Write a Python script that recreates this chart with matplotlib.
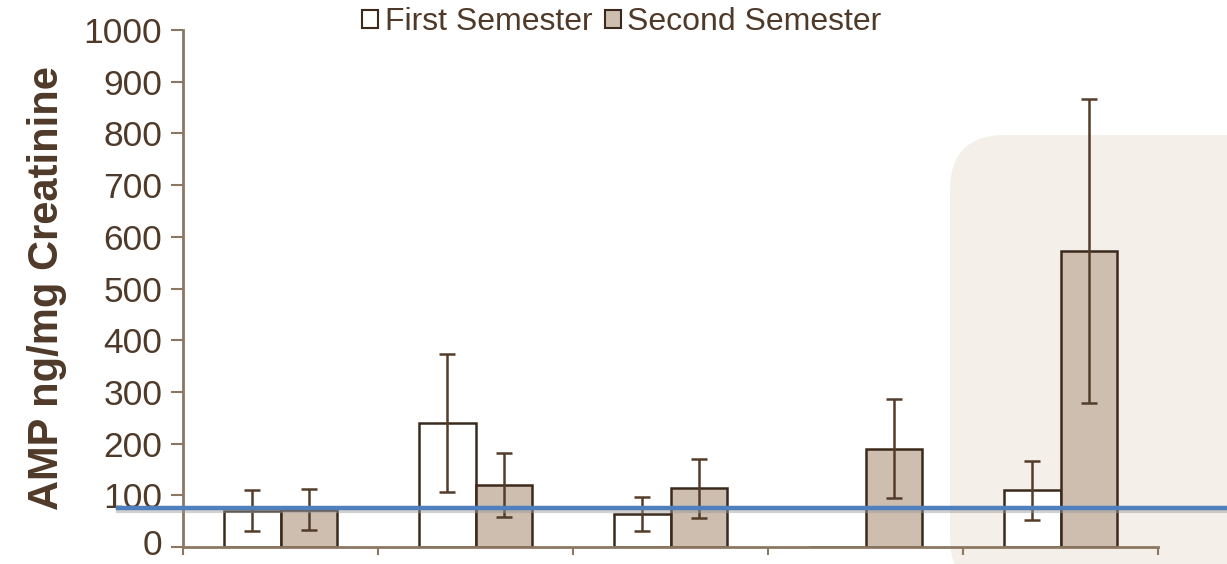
import matplotlib
matplotlib.use("Agg")
import matplotlib.pyplot as plt
import matplotlib.transforms as mtransforms
from matplotlib.patches import FancyBboxPatch
from matplotlib.lines import Line2D
import numpy as np

plt.rcParams['font.family'] = ['Liberation Sans', 'DejaVu Sans']

# Data
groups = ["G1", "G2", "G3", "G4", "G5"]
first_mean = [70, 240, 64, 0, 110]
first_err = [40, 133, 33, 0, 57]
second_mean = [72, 120, 114, 190, 572]
second_err = [40, 62, 57, 96, 294]
series_labels = ["First Semester", "Second Semester"]
reference_level = 75
y_ticks = [0, 100, 200, 300, 400, 500, 600, 700, 800, 900, 1000]

W, H = 1227, 564
fig = plt.figure(figsize=(W / 100, H / 100), dpi=100)

brown_txt = "#4f3a2a"
axis_col = "#8c7762"
edge_col = "#3b2a1c"
err_col = "#543c2b"
fill2 = "#cdbeb0"

# Highlight panel behind the last group
panel = FancyBboxPatch((950 / W, -0.05), 0.3, (H - 135) / H + 0.05,
                       boxstyle="round,pad=0,rounding_size=0.045",
                       transform=fig.transFigure, facecolor="#f4efe8",
                       edgecolor="none", zorder=-5, mutation_aspect=W / H)
fig.patches.append(panel)

ax = fig.add_axes([183 / W, 1 - 547 / H, (1158 - 183) / W, (547 - 30) / H])
ax.patch.set_alpha(0)
ax.set_zorder(2)

x = np.arange(len(groups)) + 0.5
w = 0.29
ax.bar(x - w / 2, first_mean, w, color="white", edgecolor=edge_col, linewidth=1.8, zorder=2)
ax.bar(x + w / 2, second_mean, w, color=fill2, edgecolor=edge_col, linewidth=1.8, zorder=2)

for xi, m, e in zip(x - w / 2, first_mean, first_err):
    if m > 0:
        ax.errorbar(xi, m, yerr=e, fmt="none", ecolor=err_col, elinewidth=1.8,
                    capsize=6, capthick=1.8, zorder=3)
for xi, m, e in zip(x + w / 2, second_mean, second_err):
    ax.errorbar(xi, m, yerr=e, fmt="none", ecolor=err_col, elinewidth=1.8,
                capsize=6, capthick=1.8, zorder=3)

ax.set_xlim(0, len(groups))
ax.set_ylim(0, 1000)
ax.set_yticks(y_ticks)
ax.set_yticklabels([str(t) for t in y_ticks], fontsize=25.5, color=brown_txt)
ax.set_xticks(np.arange(len(groups) + 1))
ax.set_xticklabels([])
ax.tick_params(axis="y", direction="out", length=9, width=1.5, color=axis_col, pad=6)
ax.tick_params(axis="x", direction="out", length=6, width=1.5, color=axis_col)
for s in ["top", "right"]:
    ax.spines[s].set_visible(False)
for s in ["left", "bottom"]:
    ax.spines[s].set_color(axis_col)
    ax.spines[s].set_linewidth(2)

# Nudge the lowest tick label up so it stays inside the canvas
zero_label = ax.yaxis.get_major_ticks()[0].label1
zero_label.set_transform(zero_label.get_transform()
                         + mtransforms.ScaledTranslation(0, 5 / 100, fig.dpi_scale_trans))

ax.set_ylabel("AMP ng/mg Creatinine", fontsize=30, fontweight="bold", color=brown_txt, labelpad=12)

# Legend
h1 = plt.Rectangle((0, 0), 1, 1, facecolor="white", edgecolor=edge_col, linewidth=1.5)
h2 = plt.Rectangle((0, 0), 1, 1, facecolor=fill2, edgecolor=edge_col, linewidth=1.5)
fig.legend([h1, h2], series_labels, loc="center", bbox_to_anchor=(622 / W, 1 - 22 / H),
           ncol=2, frameon=False, fontsize=23, handlelength=0.5, handleheight=0.5,
           handletextpad=0.2, columnspacing=0.4, labelcolor=brown_txt)

# Reference line across the plot
trans = mtransforms.blended_transform_factory(fig.transFigure, ax.transData)
shadow = Line2D([118 / W, 1.0], [reference_level, reference_level], transform=trans
                + mtransforms.ScaledTranslation(0, -2.5 / 100, fig.dpi_scale_trans),
                color="#9a9a9a", alpha=0.45, linewidth=3, clip_on=False, zorder=4)
ref = Line2D([118 / W, 1.0], [reference_level, reference_level], transform=trans,
             color="#4f7fbd", linewidth=3.2, clip_on=False, zorder=5)
ax.add_artist(shadow)
ax.add_artist(ref)

fig.savefig("out.png", dpi=100)
